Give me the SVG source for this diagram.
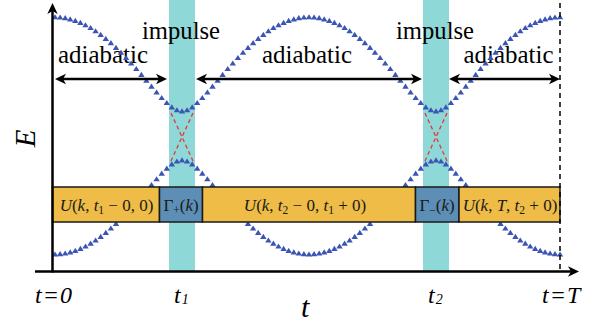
<svg xmlns="http://www.w3.org/2000/svg" width="595" height="324" viewBox="0 0 595 324">
<style>
.ax{stroke:#000;stroke-width:2.5;fill:none}
.lbl{font-family:'Liberation Serif','Times New Roman','DejaVu Serif',serif;fill:#000}
.it{font-style:italic}
.box{stroke:#1a1a1a;stroke-width:1.5}
.yel{fill:#EEBC47}
.blu{fill:#5C8EB6}
.band{fill:#8ED8D8}
.red{stroke:#E8373C;stroke-width:1.3;stroke-dasharray:4 3;fill:none}
.arr{stroke:#000;stroke-width:2.5;fill:none;marker-start:url(#ah);marker-end:url(#ah)}
.curve{fill:none;stroke:none;marker-start:url(#tri);marker-mid:url(#tri);marker-end:url(#tri)}
.mt{font-family:'Liberation Serif','Times New Roman','DejaVu Serif',serif;font-size:17px;fill:#1a1a1a}
.sub{font-size:11.5px}
</style>
<defs>
<marker id="tri" markerUnits="userSpaceOnUse" markerWidth="10" markerHeight="10" refX="5" refY="5" orient="0" overflow="visible"><path d="M5,1.8 L8.2,6.9 L1.8,6.9 Z" fill="#3A55B4"/></marker>
<marker id="ah" markerUnits="userSpaceOnUse" markerWidth="14" markerHeight="12" refX="6" refY="6" orient="auto-start-reverse" overflow="visible"><path d="M12,6 L1,0.8 L4,6 L1,11.2 Z" fill="#000"/></marker>
</defs>

<g id="bands">
<rect class="band" x="169" y="0" width="26" height="271"/>
<rect class="band" x="423" y="0" width="26" height="271"/>
</g>

<g id="crossings">
<line class="red" x1="171" y1="113" x2="193" y2="161"/>
<line class="red" x1="193" y1="113" x2="171" y2="161"/>
<line class="red" x1="425" y1="113" x2="447" y2="161"/>
<line class="red" x1="447" y1="113" x2="425" y2="161"/>
</g>

<g id="labels">
<text class="lbl" x="103" y="63" font-size="26" text-anchor="middle" textLength="90" lengthAdjust="spacingAndGlyphs">adiabatic</text>
<text class="lbl" x="307" y="63" font-size="26" text-anchor="middle" textLength="90" lengthAdjust="spacingAndGlyphs">adiabatic</text>
<text class="lbl" x="508.5" y="63" font-size="26" text-anchor="middle" textLength="90" lengthAdjust="spacingAndGlyphs">adiabatic</text>
<text class="lbl" x="181" y="39" font-size="26" text-anchor="middle" textLength="78" lengthAdjust="spacingAndGlyphs">impulse</text>
<text class="lbl" x="435" y="39" font-size="26" text-anchor="middle" textLength="78" lengthAdjust="spacingAndGlyphs">impulse</text>
</g>

<g id="upper-curve">
<polyline class="curve" points="55,17.4 60.1,17.7 65.2,18.3 70.2,19.5 75.3,21 80.4,23 85.5,25.4 90.6,28.2 95.6,31.4 100.7,35 105.8,39 110.9,43.3 116,48 121,52.9 126.1,58.1 131.2,63.6 136.3,69.2 141.4,75 146.4,80.9 151.5,86.8 156.6,92.6 161.7,98.2 166.8,103.2 171.8,107.5 176.9,110.4 182,111.5 187.1,110.4 192.2,107.5 197.2,103.2 202.3,98.2 207.4,92.6 212.5,86.8 217.6,80.9 222.6,75 227.7,69.2 232.8,63.6 237.9,58.1 243,52.9 248,48 253.1,43.3 258.2,39 263.3,35 268.4,31.4 273.4,28.2 278.5,25.4 283.6,23 288.7,21 293.8,19.5 298.8,18.3 303.9,17.7 309,17.4 314.1,17.7 319.2,18.3 324.2,19.5 329.3,21 334.4,23 339.5,25.4 344.6,28.2 349.6,31.4 354.7,35 359.8,39 364.9,43.3 370,48 375,52.9 380.1,58.1 385.2,63.6 390.3,69.2 395.4,75 400.4,80.9 405.5,86.8 410.6,92.6 415.7,98.2 420.8,103.2 425.8,107.5 430.9,110.4 436,111.5 441,110.4 445.9,107.5 450.9,103.2 455.8,98.2 460.8,92.6 465.8,86.8 470.7,80.9 475.7,75 480.6,69.2 485.6,63.6 490.6,58.1 495.5,52.9 500.5,48 505.4,43.3 510.4,39 515.4,35 520.3,31.4 525.3,28.2 530.2,25.4 535.2,23 540.2,21 545.1,19.5 550.1,18.3 555,17.7 560,17.4"/>
</g>

<g id="lower-curve">
<polyline class="curve" points="55,254.6 60.1,254.3 65.2,253.7 70.2,252.5 75.3,251 80.4,249 85.5,246.6 90.6,243.8 95.6,240.6 100.7,237 105.8,233 110.9,228.7 116,224 121,219.1 126.1,213.9 131.2,208.4 136.3,202.8 141.4,197 146.4,191.1 151.5,185.2 156.6,179.4 161.7,173.8 166.8,168.8 171.8,164.5 176.9,161.6 182,160.5 187.1,161.6 192.2,164.5 197.2,168.8 202.3,173.8 207.4,179.4 212.5,185.2 217.6,191.1 222.6,197 227.7,202.8 232.8,208.4 237.9,213.9 243,219.1 248,224 253.1,228.7 258.2,233 263.3,237 268.4,240.6 273.4,243.8 278.5,246.6 283.6,249 288.7,251 293.8,252.5 298.8,253.7 303.9,254.3 309,254.6 314.1,254.3 319.2,253.7 324.2,252.5 329.3,251 334.4,249 339.5,246.6 344.6,243.8 349.6,240.6 354.7,237 359.8,233 364.9,228.7 370,224 375,219.1 380.1,213.9 385.2,208.4 390.3,202.8 395.4,197 400.4,191.1 405.5,185.2 410.6,179.4 415.7,173.8 420.8,168.8 425.8,164.5 430.9,161.6 436,160.5 441,161.6 445.9,164.5 450.9,168.8 455.8,173.8 460.8,179.4 465.8,185.2 470.7,191.1 475.7,197 480.6,202.8 485.6,208.4 490.6,213.9 495.5,219.1 500.5,224 505.4,228.7 510.4,233 515.4,237 520.3,240.6 525.3,243.8 530.2,246.6 535.2,249 540.2,251 545.1,252.5 550.1,253.7 555,254.3 560,254.6"/>
</g>

<g id="connectors">
<line class="arr" x1="61" y1="79" x2="161" y2="79"/>
<line class="arr" x1="202" y1="79" x2="416" y2="79"/>
<line class="arr" x1="455" y1="79" x2="554" y2="79"/>
</g>

<g id="box-U1">
<rect class="box yel" x="52.5" y="187" width="107" height="35"/>
<text class="mt" x="106.5" y="211" text-anchor="middle"><tspan class="it">U</tspan>(<tspan class="it">k</tspan>, <tspan class="it">t</tspan><tspan class="sub" dy="3">1</tspan><tspan dy="-3"> − 0, 0)</tspan></text>
</g>
<g id="box-Gplus">
<rect class="box blu" x="159.5" y="187" width="43" height="35"/>
<text class="mt" x="181" y="211" text-anchor="middle">Γ<tspan class="sub" dy="3">+</tspan><tspan dy="-3">(</tspan><tspan class="it">k</tspan>)</text>
</g>
<g id="box-U2">
<rect class="box yel" x="202.5" y="187" width="213" height="35"/>
<text class="mt" x="305" y="211" text-anchor="middle"><tspan class="it">U</tspan>(<tspan class="it">k</tspan>, <tspan class="it">t</tspan><tspan class="sub" dy="3">2</tspan><tspan dy="-3"> − 0, </tspan><tspan class="it">t</tspan><tspan class="sub" dy="3">1</tspan><tspan dy="-3"> + 0)</tspan></text>
</g>
<g id="box-Gminus">
<rect class="box blu" x="415.5" y="187" width="43.5" height="35"/>
<text class="mt" x="437" y="211" text-anchor="middle">Γ<tspan class="sub" dy="3">−</tspan><tspan dy="-3">(</tspan><tspan class="it">k</tspan>)</text>
</g>
<g id="box-U3">
<rect class="box yel" x="459" y="187" width="101" height="35"/>
<text class="mt" x="510" y="211" text-anchor="middle"><tspan class="it">U</tspan>(<tspan class="it">k</tspan>, <tspan class="it">T</tspan>, <tspan class="it">t</tspan><tspan class="sub" dy="3">2</tspan><tspan dy="-3"> + 0)</tspan></text>
</g>

<g id="axes">
<line class="ax" x1="52.5" y1="272.5" x2="52.5" y2="9" style="marker-end:url(#ah)"/>
<line class="ax" x1="35" y1="271.5" x2="573" y2="271.5" style="marker-end:url(#ah)"/>
<line x1="560" y1="3" x2="560" y2="271" stroke="#000" stroke-width="1.5" stroke-dasharray="5 4"/>
</g>

<g id="axis-labels">
<text class="lbl it" font-size="29" text-anchor="middle" transform="translate(35,138.5) rotate(-90)">E</text>
<text class="lbl it" x="301" y="317" font-size="30">t</text>
<text class="lbl it" x="35" y="303" font-size="24">t<tspan dx="1">=</tspan><tspan dx="1">0</tspan></text>
<text class="lbl it" x="174" y="303" font-size="24">t<tspan font-size="14" dx="1" dy="1">1</tspan></text>
<text class="lbl it" x="428" y="303" font-size="24">t<tspan font-size="14" dx="1" dy="1">2</tspan></text>
<text class="lbl it" x="542" y="303" font-size="24">t<tspan dx="1">=</tspan><tspan dx="1">T</tspan></text>
</g>
</svg>
